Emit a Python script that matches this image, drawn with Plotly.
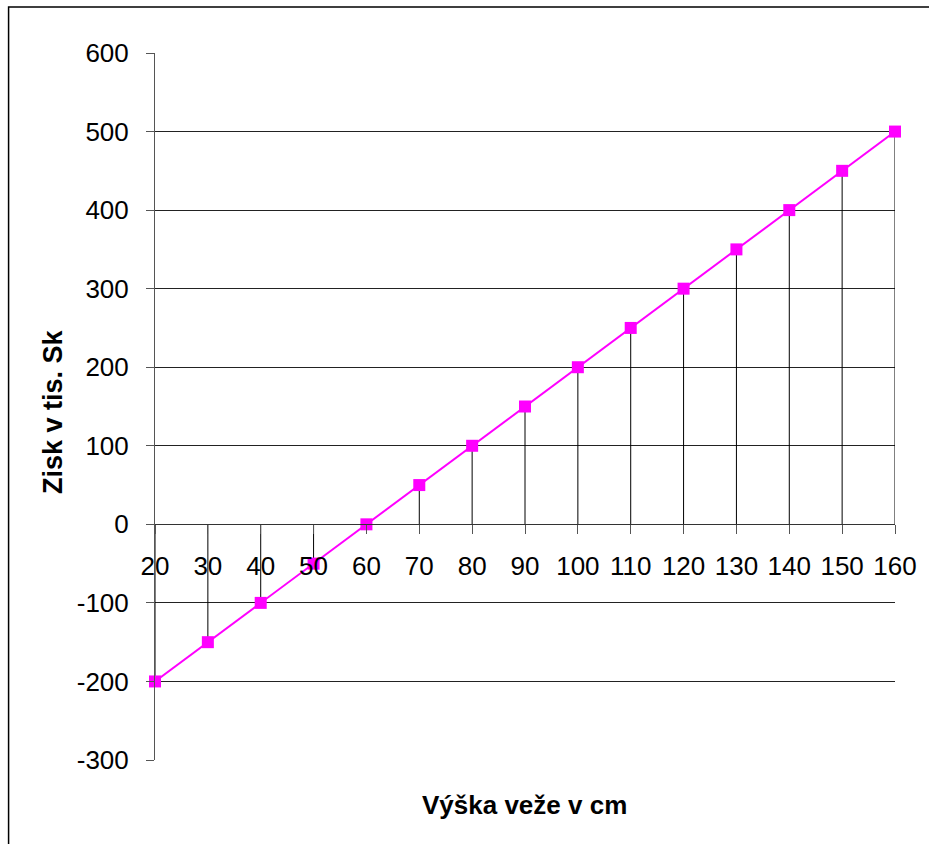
import plotly.graph_objects as go

heights = [20, 30, 40, 50, 60, 70, 80, 90, 100, 110, 120, 130, 140, 150, 160]
profit = [-200, -150, -100, -50, 0, 50, 100, 150, 200, 250, 300, 350, 400, 450, 500]
y_ticks = [-300, -200, -100, 0, 100, 200, 300, 400, 500, 600]
y_tick_labels = ["-300", "-200", "-100", "0", "100", "200", "300", "400", "500", "600"]
x_title = "Výška veže v cm"
y_title = "Zisk v tis. Sk"

W, H = 929, 844
L, T = 155, 53
R = W - 903
B = H - 760
pw, ph = W - L - R, H - T - B
ymin, ymax = -300, 600

FONT = "Liberation Sans, Arial, sans-serif"

dx, dy = [], []
for xv, yv in zip(heights, profit):
    dx += [xv, xv, None]
    dy += [0, yv, None]

fig = go.Figure()
fig.add_trace(go.Scatter(x=dx, y=dy, mode="lines", line=dict(color="black", width=1),
                         hoverinfo="skip", showlegend=False, cliponaxis=False))
fig.add_trace(go.Scatter(x=heights, y=profit, mode="lines+markers",
                         line=dict(color="#FF00FF", width=2),
                         marker=dict(symbol="square", size=12, color="#FF00FF"),
                         showlegend=False, cliponaxis=False))

zero_pos = (0 - ymin) / (ymax - ymin)

def px_x(p):
    return (p - L) / pw

def px_y(p):
    return (H - B - p) / ph

fig.update_layout(
    width=W, height=H,
    margin=dict(l=L, r=R, t=T, b=B, pad=0),
    paper_bgcolor="white", plot_bgcolor="white",
    font=dict(family=FONT, size=26, color="black"),
    xaxis=dict(range=[20, 160], tickvals=heights, ticktext=[str(h) for h in heights],
               showgrid=False, zeroline=False, showline=True, linecolor="#333333", linewidth=1,
               ticks="outside", ticklen=9, tickcolor="#555555", tickwidth=1,
               anchor="free", position=zero_pos, ticklabelstandoff=9,
               tickfont=dict(size=26)),
    yaxis=dict(range=[ymin, ymax], tickvals=y_ticks, ticktext=y_tick_labels,
               showgrid=True, gridcolor="#222222", gridwidth=1,
               zeroline=False, showline=True, linecolor="#555555", linewidth=1,
               ticks="outside", ticklen=8, tickcolor="#555555", tickwidth=1,
               ticklabelstandoff=12, tickfont=dict(size=26)),
    annotations=[
        dict(text=f"<b>{x_title}</b>", xref="paper", yref="paper",
             x=px_x(528), y=px_y(805), xanchor="center", yanchor="middle",
             showarrow=False, font=dict(size=26, family=FONT)),
        dict(text=f"<b>{y_title}</b>", xref="paper", yref="paper",
             x=px_x(52), y=px_y(412), xanchor="center", yanchor="middle",
             textangle=-90, showarrow=False, font=dict(size=27, family=FONT)),
    ],
    shapes=[dict(type="rect", xref="paper", yref="paper",
                 x0=px_x(7), x1=1.3, y0=-0.3, y1=px_y(7),
                 line=dict(color="black", width=1.5), layer="below")],
)

fig.write_html("out.html", config={"displayModeBar": False},
               post_script="document.body.style.margin='0';document.body.style.overflow='hidden';")
